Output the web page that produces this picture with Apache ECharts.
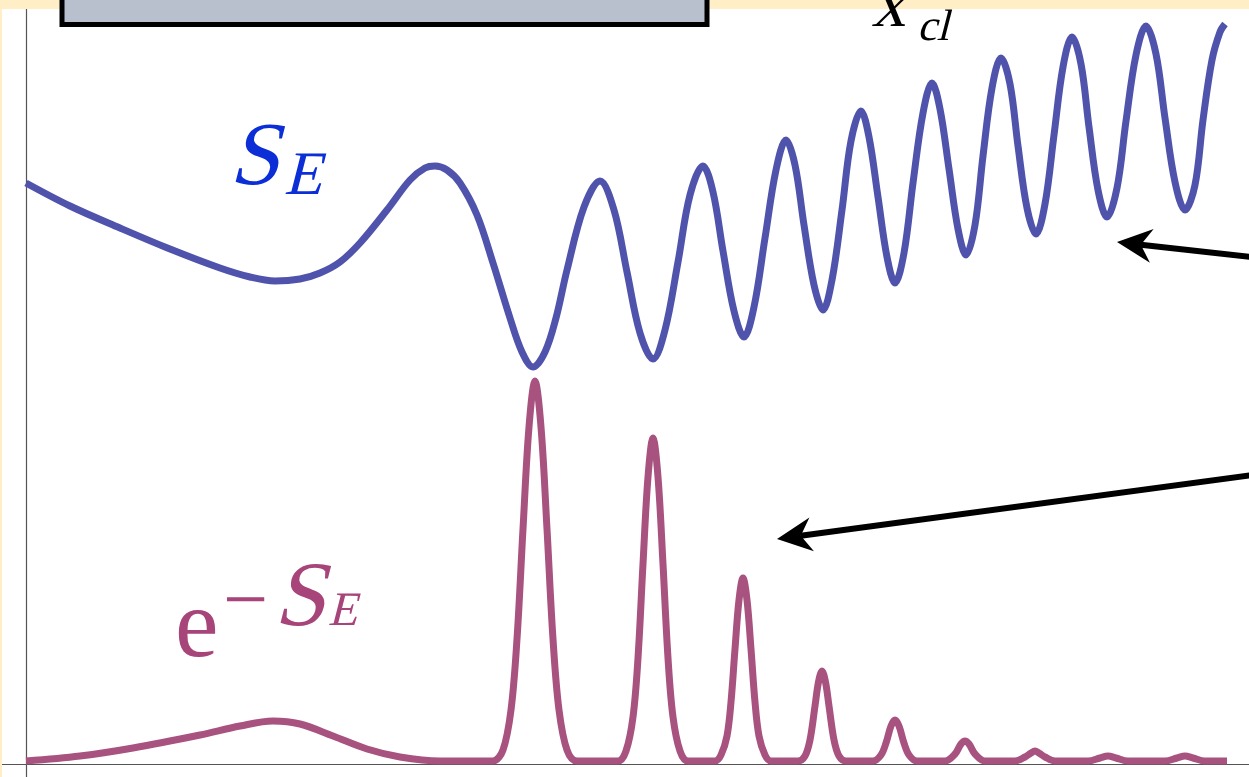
<!DOCTYPE html>
<html>
<head>
<meta charset="utf-8">
<title>S_E and e^-S_E</title>
<script src="https://cdn.jsdelivr.net/npm/echarts@6/dist/echarts.min.js"></script>
<style>
html, body { margin: 0; padding: 0; background: #fff; }
#main { width: 1249px; height: 777px; }
</style>
</head>
<body>
<div id="main"></div>
<script>
// S_E curve (x in arbitrary units)
var seX = [0.00, 0.44, 0.94, 1.44, 1.94, 2.24, 2.49, 2.74, 2.94, 3.14, 3.34, 3.61, 3.84, 3.99, 4.09, 4.21, 4.34, 4.51, 4.67, 4.84, 4.96, 5.07,
    5.19, 5.30, 5.41, 5.58, 5.74, 5.88, 6.01, 6.14, 6.27, 6.39, 6.52, 6.64, 6.77, 6.87, 6.97, 7.08, 7.18,
    7.28, 7.39, 7.50, 7.60, 7.69, 7.78, 7.88, 7.97, 8.06, 8.16, 8.25, 8.35, 8.43, 8.52, 8.61, 8.69,
    8.78, 8.87, 8.97, 9.06, 9.14, 9.23, 9.32, 9.40, 9.49, 9.57, 9.66, 9.75, 9.84, 9.92, 10.01, 10.10,
    10.19, 10.28, 10.37, 10.46, 10.55, 10.63, 10.72, 10.81, 10.91, 11.00, 11.10, 11.20, 11.30, 11.39, 11.49, 11.59,
    11.69, 11.77, 11.86, 11.94, 11.99];
var seY = [5.81, 5.58, 5.36, 5.15, 4.96, 4.87, 4.83, 4.85, 4.91, 5.02, 5.21, 5.54, 5.84, 5.96, 5.98, 5.94, 5.81, 5.49, 5.01, 4.46, 4.12, 3.97,
    4.12, 4.46, 4.94, 5.57, 5.83, 5.54, 4.92, 4.31, 4.05, 4.34, 5.02, 5.69, 5.98, 5.72, 5.13, 4.53, 4.27,
    4.57, 5.26, 5.94, 6.24, 5.99, 5.39, 4.79, 4.54, 4.84, 5.54, 6.23, 6.53, 6.27, 5.67, 5.07, 4.81,
    5.11, 5.81, 6.51, 6.81, 6.55, 5.95, 5.35, 5.09, 5.39, 6.08, 6.76, 7.06, 6.80, 6.18, 5.56, 5.30,
    5.60, 6.29, 6.97, 7.27, 7.00, 6.37, 5.74, 5.47, 5.76, 6.43, 7.09, 7.38, 7.10, 6.46, 5.82, 5.54,
    5.79, 6.44, 7.04, 7.32, 7.40];

// e^{-S_E} curve
var expX = [0.00, 0.54, 1.07, 1.74, 2.14, 2.47, 2.74, 3.07, 3.41, 3.74, 4.14, 4.54,
    4.67, 4.77, 4.85, 4.91, 4.97, 5.03, 5.09, 5.15, 5.21, 5.27, 5.33, 5.41, 5.51,
    5.92, 6.00, 6.07, 6.12, 6.17, 6.22, 6.27, 6.32, 6.37, 6.42, 6.47, 6.54, 6.62,
    6.89, 6.95, 7.01, 7.05, 7.09, 7.13, 7.17, 7.21, 7.25, 7.29, 7.33, 7.39, 7.45,
    7.72, 7.79, 7.84, 7.89, 7.925, 7.96, 7.995, 8.03, 8.08, 8.13, 8.20,
    8.47, 8.55, 8.60, 8.65, 8.69, 8.73, 8.78, 8.83, 8.91,
    9.19, 9.29, 9.35, 9.39, 9.43, 9.49, 9.59,
    9.89, 9.99, 10.05, 10.09, 10.13, 10.19, 10.29,
    10.62, 10.74, 10.82, 10.90, 11.02,
    11.39, 11.51, 11.59, 11.67, 11.79, 12.01];
var expY = [0.03, 0.08, 0.16, 0.29, 0.38, 0.43, 0.40, 0.28, 0.15, 0.07, 0.03, 0.03,
    0.03, 0.14, 0.54, 1.25, 2.35, 3.37, 3.83, 3.37, 2.35, 1.25, 0.54, 0.14, 0.03,
    0.03, 0.13, 0.47, 1.06, 2.00, 2.87, 3.26, 2.87, 2.00, 1.06, 0.47, 0.13, 0.03,
    0.03, 0.09, 0.28, 0.62, 1.15, 1.64, 1.86, 1.64, 1.15, 0.62, 0.28, 0.09, 0.03,
    0.03, 0.08, 0.24, 0.58, 0.82, 0.93, 0.82, 0.58, 0.24, 0.08, 0.03,
    0.03, 0.09, 0.21, 0.38, 0.44, 0.38, 0.21, 0.09, 0.03,
    0.03, 0.10, 0.20, 0.23, 0.20, 0.10, 0.03,
    0.03, 0.07, 0.11, 0.13, 0.11, 0.07, 0.03,
    0.03, 0.06, 0.08, 0.06, 0.03,
    0.03, 0.06, 0.08, 0.06, 0.03, 0.03];

function zip(xs, ys) {
    var out = [];
    for (var i = 0; i < xs.length; i++) out.push([xs[i], ys[i]]);
    return out;
}

// arrow made of a shaft and a "stealth" head
function arrow(tail, tip) {
    var dx = tip[0] - tail[0], dy = tip[1] - tail[1];
    var len = Math.sqrt(dx * dx + dy * dy);
    var ux = dx / len, uy = dy / len, nx = -uy, ny = ux;
    var back = [tip[0] - 35 * ux, tip[1] - 35 * uy];
    var notch = [tip[0] - 24 * ux, tip[1] - 24 * uy];
    return [
        { type: 'line', z: 20, shape: { x1: tail[0], y1: tail[1], x2: notch[0], y2: notch[1] },
          style: { stroke: '#000', lineWidth: 6 } },
        { type: 'polygon', z: 20,
          shape: { points: [tip, [back[0] + 17 * nx, back[1] + 17 * ny], notch, [back[0] - 17 * nx, back[1] - 17 * ny]] },
          style: { fill: '#000' } }
    ];
}

var SERIF = "'Liberation Serif', serif";

// math italic is faked by slanting the upright serif face
function txt(str, x, y, size, color, italic) {
    return {
        type: 'text', z: 30, x: x, y: y,
        skewX: italic ? -0.25 : 0,
        style: {
            text: str, fill: color, fontSize: size,
            fontFamily: SERIF, fontStyle: 'normal',
            verticalAlign: 'middle', align: 'left'
        }
    };
}

var myChart = echarts.init(document.getElementById('main'));

var graphics = [
    { type: 'rect', z: 10, shape: { x: 0, y: 0, width: 1249, height: 9 }, style: { fill: '#FFEEC6' } },
    { type: 'rect', z: 10, shape: { x: 0, y: 0, width: 2, height: 777 }, style: { fill: '#FFEEC6' } },
    { type: 'rect', z: 15, shape: { x: 62, y: -10, width: 645, height: 34.5 },
      style: { fill: '#B7C0CC', stroke: '#000', lineWidth: 5 } },
    txt('S', 235, 160, 90, '#0B2ED6', true),
    txt('E', 288, 178, 62, '#0B2ED6', true),
    txt('x', 876, 8, 68, '#000', true),
    txt('cl', 920, 28, 44, '#000', true),
    txt('e', 175, 630, 98, '#A7447A', false),
    txt('\u2212', 223, 605, 80, '#A7447A', false),
    txt('S', 280, 601, 92, '#A7447A', true),
    txt('E', 331, 612, 48, '#A7447A', true)
].concat(arrow([1252, 257], [1117, 242]), arrow([1252, 475], [777, 539]));

var option = {
    animation: false,
    backgroundColor: '#fff',
    grid: { left: 0, right: 0, top: 0, bottom: 0 },
    xAxis: {
        type: 'value', min: -0.26, max: 12.23,
        axisLine: { show: true, onZero: true, lineStyle: { color: '#555', width: 1.2 } },
        axisTick: { show: false }, axisLabel: { show: false }, splitLine: { show: false }
    },
    yAxis: {
        type: 'value', min: -0.13, max: 7.64,
        axisLine: { show: true, onZero: true, lineStyle: { color: '#555', width: 1.2 } },
        axisTick: { show: false }, axisLabel: { show: false }, splitLine: { show: false }
    },
    graphic: graphics,
    series: [
        {
            name: 'S_E', type: 'line', smooth: 0.35, showSymbol: false,
            lineStyle: { color: '#5053AB', width: 7 },
            data: zip(seX, seY)
        },
        {
            name: 'exp(-S_E)', type: 'line', smooth: 0.35, showSymbol: false,
            lineStyle: { color: '#A8527F', width: 7 },
            data: zip(expX, expY)
        }
    ]
};
myChart.setOption(option);
</script>
</body>
</html>
